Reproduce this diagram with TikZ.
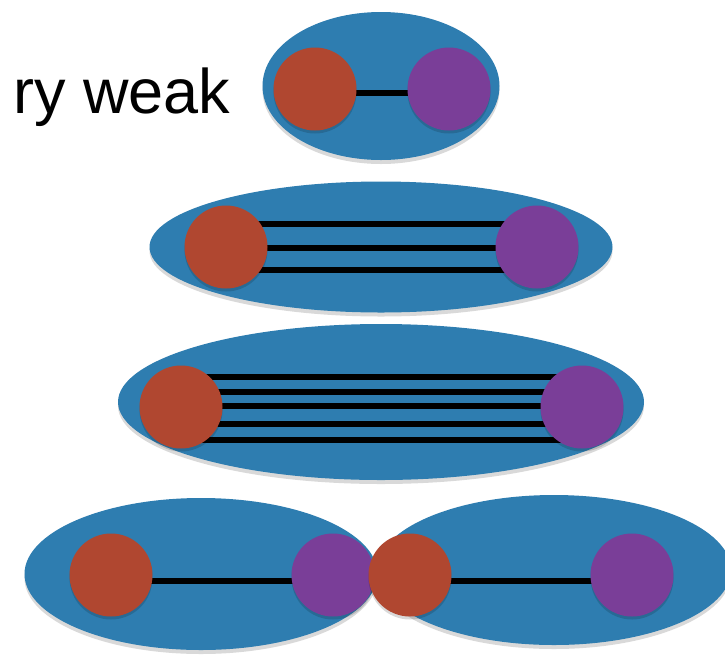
\documentclass[tikz,border=0pt]{standalone}
\usepackage{fontspec}
\setmainfont{Liberation Sans}
\usetikzlibrary{shapes.geometric,shadows}
\definecolor{cellblue}{RGB}{46,125,176}
\definecolor{atomred}{RGB}{176,71,48}
\definecolor{atompurple}{RGB}{122,62,152}
\pgfdeclarelayer{back}
\pgfdeclarelayer{mid}
\pgfsetlayers{back,mid,main}
\tikzset{
  cell/.style={ellipse, fill=cellblue, draw=none, inner sep=0pt,
    drop shadow={shadow xshift=0pt, shadow yshift=-4pt, opacity=0.15, fill=black}},
  atom/.style={circle, draw=none, inner sep=0pt, minimum size=83pt,
    drop shadow={shadow xshift=0pt, shadow yshift=-3pt, opacity=0.15, fill=black}},
  redatom/.style={atom, fill=atomred},
  purpleatom/.style={atom, fill=atompurple},
  bond/.style={line width=5.5pt, black},
  lbl/.style={inner sep=0pt, anchor=base west, font=\fontsize{63}{70}\selectfont}
}
\begin{document}
\begin{tikzpicture}[x=1pt, y=-1pt]
\useasboundingbox (0,0) rectangle (725,654);
% label
\node[lbl] (t) at (13,113) {ry weak};
% cells
\begin{pgfonlayer}{back}
\node[cell, minimum width=237pt, minimum height=148pt] (e1) at (381,86) {};
\node[cell, minimum width=463pt, minimum height=131pt] (e2) at (381,247) {};
\node[cell, minimum width=526pt, minimum height=156pt] (e3) at (381,402) {};
\node[cell, minimum width=353pt, minimum height=152pt] (e4) at (201,574) {};
\node[cell, minimum width=354pt, minimum height=150pt] (e5) at (554,570) {};
\end{pgfonlayer}
% atoms
\node[redatom] (r1) at (315,89) {};
\node[purpleatom] (p1) at (449,89) {};
\node[redatom] (r2) at (226,247) {};
\node[purpleatom] (p2) at (537,247) {};
\node[redatom] (r3) at (181,407) {};
\node[purpleatom] (p3) at (582,407) {};
\node[redatom] (r4) at (111,575) {};
\node[purpleatom] (p4) at (333,575) {};
\node[redatom] (r5) at (410,575) {};
\node[purpleatom] (p5) at (632,575) {};
% bonds
\begin{pgfonlayer}{mid}
\draw[bond] ([yshift=-4pt]r1.center) -- ([yshift=-4pt]p1.center);
\draw[bond] ([yshift=23pt]r2.center) -- ([yshift=23pt]p2.center);
\draw[bond] ([yshift=-1pt]r2.center) -- ([yshift=-1pt]p2.center);
\draw[bond] ([yshift=-23pt]r2.center) -- ([yshift=-23pt]p2.center);
\draw[bond] ([yshift=30pt]r3.center) -- ([yshift=30pt]p3.center);
\draw[bond] ([yshift=15pt]r3.center) -- ([yshift=15pt]p3.center);
\draw[bond] ([yshift=1pt]r3.center) -- ([yshift=1pt]p3.center);
\draw[bond] ([yshift=-17pt]r3.center) -- ([yshift=-17pt]p3.center);
\draw[bond] ([yshift=-33pt]r3.center) -- ([yshift=-33pt]p3.center);
\draw[bond] ([yshift=-6pt]r4.center) -- ([yshift=-6pt]p4.center);
\draw[bond] ([yshift=-6pt]r5.center) -- ([yshift=-6pt]p5.center);
\end{pgfonlayer}
\end{tikzpicture}
\end{document}
